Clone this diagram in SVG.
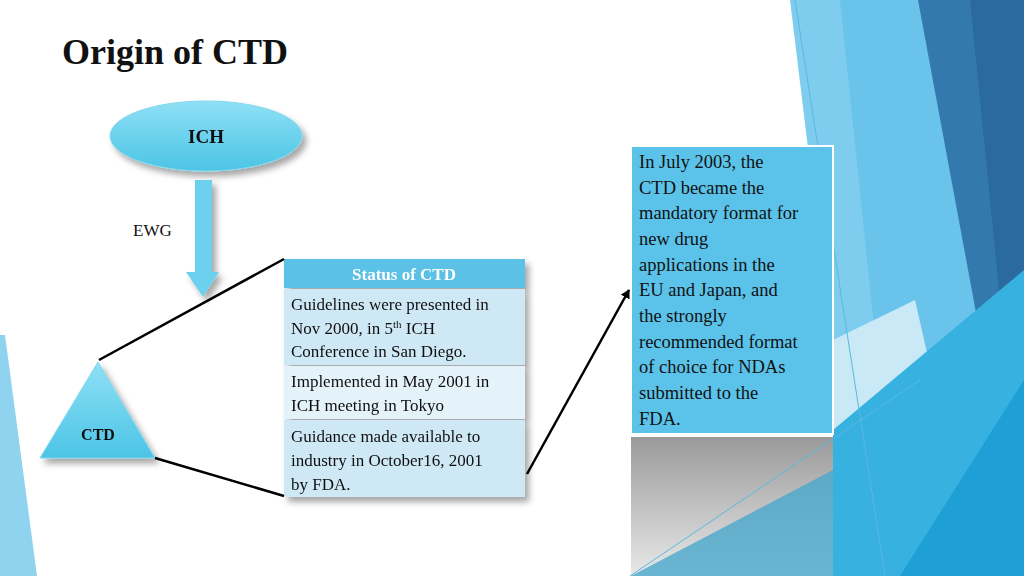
<svg xmlns="http://www.w3.org/2000/svg" width="1024" height="576" viewBox="0 0 1024 576">
<defs>
<style>
.t{font-family:"Liberation Serif",serif;fill:#111}
.b{font-weight:bold}
.ln{stroke:#000;stroke-width:2.5;fill:none}
</style>
<linearGradient id="gr" x1="0" y1="0" x2="0" y2="1"><stop offset="0" stop-color="#9a9a9a"/><stop offset="1" stop-color="#e8e8e8"/></linearGradient>
<linearGradient id="sh" x1="0" y1="0" x2="0" y2="1"><stop offset="0" stop-color="#8fe0f5"/><stop offset="1" stop-color="#4cc4e6"/></linearGradient>
<filter id="ds" x="-20%" y="-20%" width="150%" height="160%"><feDropShadow dx="4" dy="5" stdDeviation="3" flood-color="#000" flood-opacity="0.35"/></filter>
<marker id="ah" markerWidth="10" markerHeight="10" refX="8" refY="5" orient="auto" markerUnits="userSpaceOnUse"><path d="M0,0 L9,5 L0,10 z" fill="#000"/></marker>
</defs>
<rect width="1024" height="576" fill="#fff"/>
<g id="background">
<polygon points="0,335 5,335 37,576 0,576" fill="#8fd3ef"/>
<polygon points="790,0 1024,0 1024,576 860,576" fill="#7ecdee"/>
<polygon points="840,0 920,0 1024,260 1024,576 900,576" fill="#6ac3ea"/>
<polygon points="918,0 1024,0 1024,290 982,345" fill="#3479ad"/>
<polygon points="970,0 1024,0 1024,270 1000,300" fill="#2a6a9e"/>
<polygon points="833,340 915,300 940,410 833,470" fill="#c9e9f7"/>
<polygon points="833,430 1024,270 1024,576 833,576" fill="#36b1e0"/>
<polygon points="900,576 1024,380 1024,576" fill="#1e9fd6"/>
<rect x="631" y="437" width="202" height="139" fill="url(#gr)"/>
<polygon points="631,576 833,470 833,576" fill="#4aa8cc" opacity="0.8"/>
<line x1="795" y1="0" x2="885" y2="576" stroke="#5ab8e0" stroke-width="1"/>
<line x1="630" y1="576" x2="920" y2="380" stroke="#5ab8e0" stroke-width="1"/>
</g>
<text class="t b" x="62" y="64" font-size="36">Origin of CTD</text>
<g id="ich" filter="url(#ds)">
<ellipse cx="206" cy="136" rx="96" ry="35" fill="url(#sh)" stroke="#7fd8ee" stroke-width="1"/>
<text class="t b" x="206" y="143" font-size="19" text-anchor="middle">ICH</text>
</g>
<g id="ewg-arrow" filter="url(#ds)">
<polygon points="195,180 212,180 212,272 219,272 203,297 186,272 195,272" fill="#6dd0ee"/>
</g>
<text class="t" x="133" y="236" font-size="17">EWG</text>
<g id="ctd" filter="url(#ds)">
<polygon points="98,362 155,458 40,458" fill="url(#sh)" stroke="#7fd8ee" stroke-width="1"/>
<text class="t b" x="98" y="440" font-size="16" text-anchor="middle">CTD</text>
</g>
<g id="status-table" filter="url(#ds)">
<rect x="284" y="259" width="241" height="29" fill="#5bc1e7"/>
<rect x="284" y="289" width="241" height="76" fill="#cfe8f5"/>
<rect x="284" y="366" width="241" height="53" fill="#e4f3fa"/>
<rect x="284" y="420" width="241" height="77" fill="#cfe8f5"/>
<text class="t b" x="404" y="280" font-size="17" text-anchor="middle" style="fill:#fff">Status of CTD</text>
<text class="t" font-size="17"><tspan x="291" y="310">Guidelines were presented in</tspan><tspan x="291" y="334">Nov 2000, in 5<tspan font-size="11" dy="-6">th</tspan><tspan dy="6"> ICH</tspan></tspan><tspan x="291" y="357">Conference in San Diego.</tspan><tspan x="291" y="387">Implemented in May 2001 in</tspan><tspan x="291" y="411">ICH meeting in Tokyo</tspan><tspan x="291" y="442">Guidance made available to</tspan><tspan x="291" y="466">industry in October16, 2001</tspan><tspan x="291" y="490">by FDA.</tspan></text>
</g>
<g id="info-box">
<rect x="631" y="146" width="202" height="288" fill="#5bc3ea" stroke="#fff" stroke-width="2"/>
<text class="t" font-size="18.5"><tspan x="639" y="168">In July 2003, the</tspan><tspan x="639" y="194">CTD became the</tspan><tspan x="639" y="219">mandatory format for</tspan><tspan x="639" y="245">new drug</tspan><tspan x="639" y="271">applications in the</tspan><tspan x="639" y="296">EU and Japan, and</tspan><tspan x="639" y="322">the strongly</tspan><tspan x="639" y="348">recommended format</tspan><tspan x="639" y="373">of choice for NDAs</tspan><tspan x="639" y="399">submitted to the</tspan><tspan x="639" y="425">FDA.</tspan></text>
</g>
<g id="connectors">
<line class="ln" x1="99" y1="360" x2="284" y2="259"/>
<line class="ln" x1="155" y1="458" x2="284" y2="496"/>
<line class="ln" x1="527" y1="474" x2="629" y2="290" marker-end="url(#ah)"/>
</g>
</svg>
